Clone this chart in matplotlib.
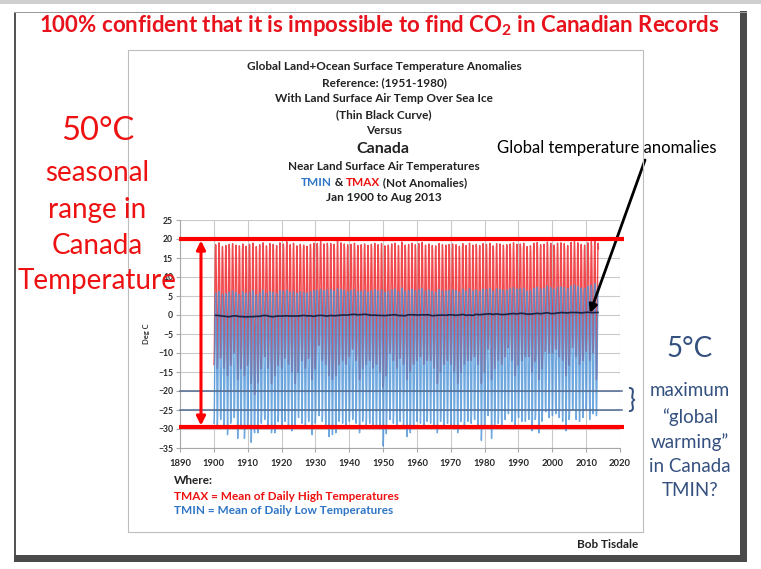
import numpy as np
import matplotlib
matplotlib.use("Agg")
import matplotlib.pyplot as plt
from matplotlib.patches import Rectangle

plt.rcParams['font.family'] = ['Lato', 'DejaVu Sans']

# ---------------- data ----------------
YEARS = list(range(1900, 2014))
MONTHS_LAST_YEAR = 8  # Jan..Aug 2013

# seasonal profile (fraction between January trough and July peak)
MONTH_FRAC = [0.0, 0.06, 0.28, 0.55, 0.80, 0.95, 1.0, 0.96, 0.80, 0.57, 0.30, 0.08]

TMIN_JAN = [-28.5, -29, -27.5, -29.5, -31.5, -28, -27, -32.5, -29, -32.5,
            -28, -33.5, -31, -31, -28.5, -27.5, -29.5, -31, -31, -28,
            -30, -28, -29, -30.5, -29, -27, -28.5, -29.5, -28, -31.5,
            -27.5, -26.5, -28, -29, -32, -31.5, -31, -28, -28.5, -29,
            -28, -27.5, -28.5, -31, -27, -29, -28.5, -30, -29.5, -30,
            -34.5, -28, -27.5, -28.5, -29.5, -28, -29, -32, -31, -29.5,
            -28, -28.5, -29, -28, -28.5, -29.5, -31, -28, -29, -28.5,
            -29, -30, -31, -27.5, -29, -28, -28.5, -27.5, -29, -33,
            -28, -26.5, -32.5, -27, -28.5, -29, -27.5, -26, -28, -29,
            -27, -28, -28, -27.5, -30.5, -27, -31, -27, -25.5, -27,
            -26.5, -26, -27, -28, -30.5, -27, -25, -27.5, -28, -27,
            -25, -27.5, -26, -26.5]
TMIN_JUL = [5.8, 6.2, 5.5, 5.6, 6.0, 6.3, 5.9, 5.4, 6.1, 5.7,
            6.0, 6.4, 5.3, 5.8, 6.5, 5.7, 6.2, 6.0, 5.6, 6.4,
            6.3, 6.6, 6.0, 6.2, 5.7, 6.1, 6.0, 5.8, 6.2, 6.4,
            6.5, 6.8, 6.4, 6.6, 6.7, 6.3, 6.9, 6.7, 6.5, 6.2,
            6.4, 6.7, 6.1, 6.3, 6.5, 6.0, 6.4, 6.7, 6.3, 6.6,
            6.0, 6.2, 6.6, 6.8, 6.1, 7.1, 6.3, 6.5, 6.8, 6.4,
            6.7, 7.0, 6.3, 6.6, 6.2, 6.0, 6.7, 6.4, 6.3, 6.5,
            6.6, 6.4, 6.0, 6.8, 6.2, 6.9, 6.3, 6.6, 6.2, 6.8,
            6.7, 7.0, 6.2, 6.9, 6.8, 6.5, 6.6, 6.9, 7.2, 6.8,
            6.9, 7.1, 6.2, 6.5, 7.0, 7.3, 6.8, 6.9, 7.6, 7.2,
            6.8, 7.3, 7.4, 7.2, 6.9, 7.6, 7.9, 7.5, 7.1, 7.0,
            7.6, 7.8, 8.3, 7.4]
TMAX_JAN = [-13, -14, -11, -14, -16, -12, -10, -17, -13, -16,
            -12, -18, -21, -17, -12, -11, -14, -18, -16, -12,
            -14, -11, -13, -15, -18, -10, -12, -14, -11, -17,
            -10, -8, -12, -13, -16, -17, -16, -11, -12, -13,
            -11, -9, -12, -17, -10, -13, -12, -14, -13, -15,
            -19, -12, -10, -12, -14, -11, -13, -17, -15, -13,
            -12, -11, -13, -12, -12, -14, -18, -12, -13, -12,
            -13, -15, -18, -10, -13, -12, -12, -11, -13, -18,
            -11, -9, -17, -10, -12, -13, -11, -8, -12, -16,
            -10, -12, -11, -11, -15, -11, -17, -12, -8, -10,
            -10, -9, -11, -12, -16, -11, -8, -11, -13, -12,
            -7, -12, -10, -17]
TMAX_JUL = [18.5, 19.0, 18.0, 18.3, 18.6, 18.8, 18.4, 18.2, 18.7, 18.1,
            18.6, 18.9, 18.0, 18.5, 19.0, 18.2, 18.8, 18.6, 18.3, 19.0,
            18.7, 19.3, 18.5, 18.9, 18.2, 18.6, 18.4, 18.1, 18.6, 18.9,
            18.8, 19.4, 18.7, 18.9, 18.8, 18.6, 19.5, 19.0, 18.7, 18.5,
            18.6, 18.9, 18.3, 18.5, 18.7, 18.3, 18.6, 18.9, 18.5, 18.8,
            18.2, 18.4, 18.7, 18.9, 18.3, 19.2, 18.4, 18.6, 18.9, 18.5,
            18.8, 19.1, 18.4, 18.7, 18.3, 18.2, 18.8, 18.5, 18.4, 18.6,
            18.7, 18.5, 18.1, 18.8, 18.3, 18.9, 18.4, 18.6, 18.3, 18.8,
            18.6, 18.9, 18.2, 18.8, 18.7, 18.4, 18.5, 18.7, 19.0, 18.6,
            18.7, 18.9, 18.0, 18.2, 18.9, 19.1, 18.5, 18.6, 19.2, 18.9,
            18.4, 18.9, 19.0, 18.8, 18.3, 19.1, 19.3, 19.0, 18.6, 18.4,
            19.0, 19.3, 19.5, 18.9]
GLOBAL_ANOM = [-0.08, -0.15, -0.28, -0.37, -0.47, -0.26, -0.22, -0.39, -0.43, -0.48,
               -0.43, -0.44, -0.36, -0.34, -0.15, -0.14, -0.36, -0.46, -0.29, -0.27,
               -0.27, -0.19, -0.28, -0.26, -0.27, -0.22, -0.10, -0.22, -0.20, -0.36,
               -0.16, -0.09, -0.16, -0.29, -0.12, -0.20, -0.15, -0.03, 0.00, -0.02,
               0.12, 0.18, 0.06, 0.09, 0.20, 0.09, -0.07, -0.03, -0.11, -0.11,
               -0.17, -0.07, 0.01, 0.08, -0.13, -0.14, -0.19, 0.05, 0.06, 0.03,
               -0.03, 0.06, 0.03, 0.05, -0.20, -0.11, -0.06, -0.02, -0.08, 0.05,
               0.03, -0.08, 0.01, 0.16, -0.07, -0.01, -0.10, 0.18, 0.07, 0.16,
               0.26, 0.32, 0.14, 0.31, 0.16, 0.12, 0.18, 0.32, 0.39, 0.27,
               0.45, 0.41, 0.22, 0.23, 0.32, 0.45, 0.33, 0.46, 0.61, 0.38,
               0.39, 0.54, 0.63, 0.62, 0.53, 0.68, 0.64, 0.66, 0.54, 0.65,
               0.72, 0.61, 0.64, 0.68]

X_TICKS = list(range(1890, 2021, 10))
Y_TICKS = list(range(-35, 26, 5))
RANGE_TOP, RANGE_BOTTOM = 20, -29.5
TMIN_BAND = [-20, -25]

# --------------- build monthly series from yearly troughs/peaks ---------------
def monthly(jan, jul):
    xs, vs = [], []
    for i, y in enumerate(YEARS):
        nm = 12 if i < len(YEARS) - 1 else MONTHS_LAST_YEAR
        for m in range(nm):
            xs.append(y + (m + 0.5) / 12)
            vs.append(jan[i] + (jul[i] - jan[i]) * MONTH_FRAC[m])
    return np.array(xs), np.array(vs)

xm, tmax = monthly(TMAX_JAN, TMAX_JUL)
_, tmin = monthly(TMIN_JAN, TMIN_JUL)

W, H = 761, 569
fig = plt.figure(figsize=(W / 100, H / 100), dpi=100)
fig.patch.set_facecolor('white')

def fx(px): return px / W
def fy(py): return 1 - py / H

# slide frame
fig.add_artist(Rectangle((0, fy(4)), 1, fy(0) - fy(4), transform=fig.transFigure, color='#cfcfcf', lw=0))
fig.add_artist(Rectangle((fx(14), fy(562)), fx(2), fy(12) - fy(562), transform=fig.transFigure, color='#555555', lw=0))
fig.add_artist(Rectangle((fx(740), fy(562)), fx(7), fy(11) - fy(562), transform=fig.transFigure, color='#4a4a4a', lw=0))
fig.add_artist(Rectangle((fx(14), fy(562)), fx(747) - fx(14), fy(555) - fy(562), transform=fig.transFigure, color='#4a4a4a', lw=0))
fig.add_artist(Rectangle((fx(14), fy(13)), fx(747) - fx(14), fy(12) - fy(13), transform=fig.transFigure, color='#9a9a9a', lw=0))
# inner chart box
fig.add_artist(Rectangle((fx(128), fy(532)), fx(643) - fx(128), fy(50) - fy(532), transform=fig.transFigure,
                         fill=False, ec='#bdbdbd', lw=0.8))

# --------------- axes ---------------
ax = fig.add_axes([fx(180), fy(448), fx(620) - fx(180), fy(220) - fy(448)])
ax.set_xlim(1890, 2020)
ax.set_ylim(-35, 25)
ax.set_xticks(X_TICKS)
ax.set_yticks(Y_TICKS)
ax.grid(True, color='#c9c9c9', lw=0.8)
ax.set_axisbelow(True)
for s in ['top', 'right']:
    ax.spines[s].set_visible(False)
for s in ['left', 'bottom']:
    ax.spines[s].set_color('#a8a8a8')
    ax.spines[s].set_linewidth(0.8)
ax.tick_params(axis='both', length=3, color='#a8a8a8', labelcolor='#2a2a2a')
ax.tick_params(axis='x', labelsize=6.8, pad=5)
ax.tick_params(axis='y', labelsize=6.2, pad=2)
for lab in ax.get_xticklabels() + ax.get_yticklabels():
    lab.set_fontweight('bold')
ax.set_ylabel('Deg C', fontsize=5.5, fontweight='bold', color='#333333', labelpad=6)

ax.plot(xm, tmax, color='#ee2a30', lw=1.0, alpha=0.85, zorder=2)
ax.plot(xm, tmin, color='#4a92d8', lw=1.0, alpha=0.8, zorder=3)
ax.plot(np.array(YEARS) + 0.5, GLOBAL_ANOM, color='#1c2446', lw=1.2, zorder=4)

for yb in TMIN_BAND:
    ax.plot([1890, 2020.6], [yb, yb], color='#4f6a8f', lw=1.1, zorder=5, clip_on=False)
for yr in (RANGE_TOP, RANGE_BOTTOM):
    ax.plot([1889.6, 2021.3], [yr, yr], color='#ff0000', lw=3, zorder=6, clip_on=False, solid_capstyle='butt')
ax.annotate('', xy=(1896.2, RANGE_BOTTOM + 0.4), xytext=(1896.2, RANGE_TOP - 0.4),
            arrowprops=dict(arrowstyle='<|-|>', color='#ff0000', lw=2.2, mutation_scale=13, shrinkA=0, shrinkB=0),
            zorder=7)

# --------------- texts ---------------
fig.text(fx(379), fy(25), r'100% confident that it is impossible to find CO$_\mathregular{2}$ in Canadian Records',
         ha='center', va='center', color='#e8121c', fontsize=16, fontweight='bold')

left_red = '#ee1111'
fig.text(fx(98), fy(131), '50°C', ha='center', va='center', color=left_red, fontsize=23.5)
for txt, yy in [('seasonal', 173), ('range in', 210), ('Canada', 246), ('Temperature', 281)]:
    fig.text(fx(97), fy(yy), txt, ha='center', va='center', color=left_red, fontsize=20)

blue_txt = '#34507f'
fig.text(fx(690), fy(349), '5°C', ha='center', va='center', color=blue_txt, fontsize=20)
for txt, yy in [('maximum', 391), ('\u201cglobal', 417), ('warming\u201d', 442), ('in Canada', 467), ('TMIN?', 491)]:
    fig.text(fx(690), fy(yy), txt, ha='center', va='center', color=blue_txt, fontsize=13.5)
fig.text(fx(631), fy(401), '}', ha='center', va='center', color='#34507f', fontsize=19)

dark = '#222222'
TS = 8.5
for txt, yy in [('Global Land+Ocean Surface Temperature Anomalies', 67), ('Reference: (1951-1980)', 83),
                ('With Land Surface Air Temp Over Sea Ice', 99), ('(Thin Black Curve)', 115),
                ('Versus', 130), ('Near Land Surface Air Temperatures', 167), ('Jan 1900 to Aug 2013', 198)]:
    fig.text(fx(384), fy(yy), txt, ha='center', va='center', color=dark, fontsize=TS, fontweight='bold')
fig.text(fx(383), fy(149), 'Canada', ha='center', va='center', color=dark, fontsize=11.5, fontweight='bold')
fig.add_artist(Rectangle((fx(358), fy(157.5)), fx(408) - fx(358), fy(156.5) - fy(157.5),
                         transform=fig.transFigure, color=dark, lw=0))

# multi-coloured line
pieces = [('TMIN', '#2e75c6'), (' & ', dark), ('TMAX', '#ee1111'), (' (Not Anomalies)', dark)]
renderer = fig.canvas.get_renderer()
tobjs = [fig.text(0, fy(183), p, ha='left', va='center', color=c, fontsize=TS, fontweight='bold') for p, c in pieces]
widths = [t.get_window_extent(renderer).width for t in tobjs]
x0 = 384 - sum(widths) / 2
for t, w in zip(tobjs, widths):
    t.set_x(fx(x0))
    x0 += w

fig.text(fx(174), fy(480), 'Where:', ha='left', va='center', color=dark, fontsize=TS, fontweight='bold')
fig.text(fx(174), fy(496), 'TMAX = Mean of Daily High Temperatures', ha='left', va='center', color='#ee1111',
         fontsize=TS, fontweight='bold')
fig.text(fx(174), fy(511), 'TMIN = Mean of Daily Low Temperatures', ha='left', va='center', color='#2e75c6',
         fontsize=TS, fontweight='bold')
fig.text(fx(638), fy(545), 'Bob Tisdale', ha='right', va='center', color=dark, fontsize=8.5, fontweight='bold')

fig.text(fx(607), fy(148), 'Global temperature anomalies', ha='center', va='center', color='black', fontsize=12)
ax.annotate('', xy=(fx(590), fy(313)), xycoords='figure fraction',
            xytext=(fx(645), fy(160)), textcoords='figure fraction',
            arrowprops=dict(arrowstyle='-|>', color='black', lw=2, mutation_scale=12, shrinkA=0, shrinkB=0))

fig.savefig('out.png', dpi=100, facecolor='white')
